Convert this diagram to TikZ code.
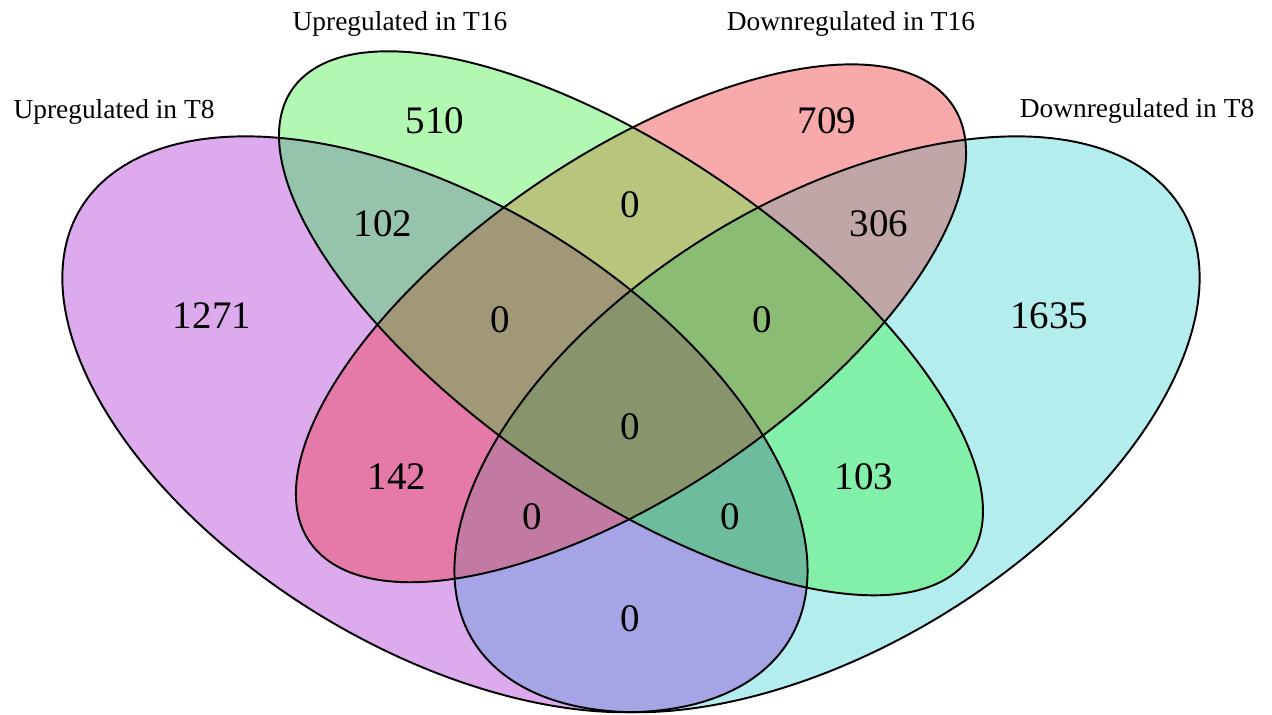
\documentclass[tikz,border=0pt]{standalone}
\usepackage{fontspec}
\setmainfont{Liberation Serif}
\definecolor{cP}{RGB}{221,170,238}
\definecolor{cG}{RGB}{178,248,178}
\definecolor{cR}{RGB}{248,170,170}
\definecolor{cC}{RGB}{180,237,237}
\definecolor{cPG}{RGB}{150,195,172}
\definecolor{cGR}{RGB}{184,198,125}
\definecolor{cRC}{RGB}{192,166,166}
\definecolor{cPR}{RGB}{229,122,168}
\definecolor{cGC}{RGB}{130,240,168}
\definecolor{cPC}{RGB}{165,165,229}
\definecolor{cPGR}{RGB}{160,152,118}
\definecolor{cGRC}{RGB}{139,188,115}
\definecolor{cPRC}{RGB}{194,122,162}
\definecolor{cPGC}{RGB}{110,188,158}
\definecolor{cAll}{RGB}{135,148,108}
\def\EP{(0.35,0.47) ellipse [x radius=0.35, y radius=0.20, rotate=-45]}
\def\EG{(0.50,0.57) ellipse [x radius=0.35, y radius=0.15, rotate=-45]}
\def\ER{(0.50,0.57) ellipse [x radius=0.33, y radius=0.15, rotate=45]}
\def\EC{(0.65,0.47) ellipse [x radius=0.35, y radius=0.20, rotate=45]}
\tikzset{
  num/.style={inner sep=0pt, font=\fontsize{22.2}{26}\selectfont},
  cat/.style={inner sep=0pt, font=\fontsize{15.6}{18}\selectfont},
  outline/.style={draw=black, line width=1.1pt},
}
\begin{document}
\begin{tikzpicture}[x=0.02cm, y=0.02cm]
\useasboundingbox (0,0) rectangle (1272,715);
\fill[white] (0,0) rectangle (1272,715);
\begin{scope}[shift={(-22.5,-184)}, xscale=1307, yscale=1010]
  % single sets
  \fill[cP] \EP;
  \fill[cC] \EC;
  \fill[cG] \EG;
  \fill[cR] \ER;
  % pairs
  \begin{scope}\clip \EP; \fill[cPG] \EG; \end{scope}
  \begin{scope}\clip \EP; \fill[cPR] \ER; \end{scope}
  \begin{scope}\clip \EP; \fill[cPC] \EC; \end{scope}
  \begin{scope}\clip \EG; \fill[cGR] \ER; \end{scope}
  \begin{scope}\clip \EG; \fill[cGC] \EC; \end{scope}
  \begin{scope}\clip \ER; \fill[cRC] \EC; \end{scope}
  % triples
  \begin{scope}\clip \EP; \clip \EG; \fill[cPGR] \ER; \end{scope}
  \begin{scope}\clip \EP; \clip \EG; \fill[cPGC] \EC; \end{scope}
  \begin{scope}\clip \EP; \clip \ER; \fill[cPRC] \EC; \end{scope}
  \begin{scope}\clip \EG; \clip \ER; \fill[cGRC] \EC; \end{scope}
  % all four
  \begin{scope}\clip \EP; \clip \EG; \clip \ER; \fill[cAll] \EC; \end{scope}
  % outlines
  \draw[outline] \EP;
  \draw[outline] \EG;
  \draw[outline] \ER;
  \draw[outline] \EC;
\end{scope}
% category labels
\node[cat] (labA) at (114,603) {Upregulated in T8};
\node[cat] (labB) at (400,691) {Upregulated in T16};
\node[cat] (labC) at (851,691) {Downregulated in T16};
\node[cat] (labD) at (1137,604) {Downregulated in T8};
% counts
\node[num] (nG)    at (435,594) {510};
\node[num] (nR)    at (827,594) {709};
\node[num] (nPG)   at (383,491) {102};
\node[num] (nRC)   at (879,491) {306};
\node[num] (nGR)   at (630,510) {0};
\node[num] (nP)    at (212,399) {1271};
\node[num] (nC)    at (1049,399) {1635};
\node[num] (nPGR)  at (500,395) {0};
\node[num] (nGRC)  at (762,395) {0};
\node[num] (nAll)  at (630,288) {0};
\node[num] (nPR)   at (397,238) {142};
\node[num] (nGC)   at (864,238) {103};
\node[num] (nPRC)  at (532,198) {0};
\node[num] (nPGC)  at (730,198) {0};
\node[num] (nPC)   at (630,96) {0};
\end{tikzpicture}
\end{document}
